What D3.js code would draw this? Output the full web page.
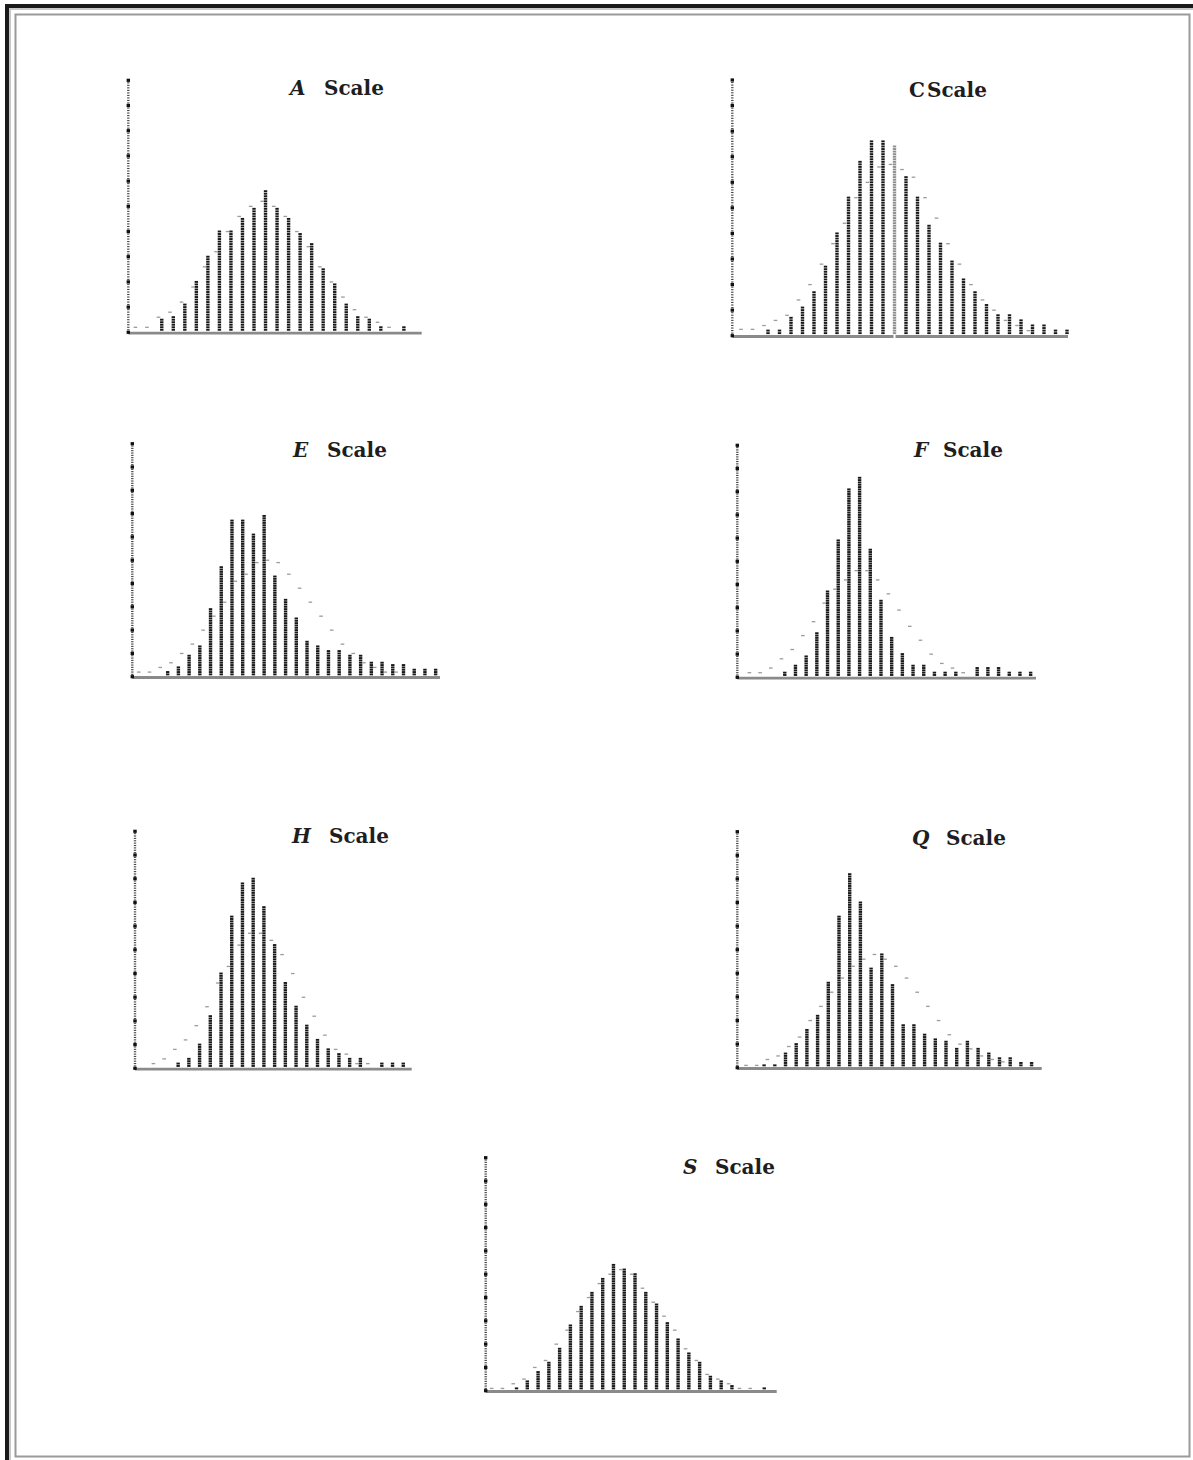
<!DOCTYPE html>
<html><head><meta charset="utf-8">
<script src="https://cdn.jsdelivr.net/npm/d3@7"></script>
<style>body{margin:0;background:#fff}svg{display:block}</style>
</head><body><svg id="chart" width="1193" height="1460"></svg>
<script>
// ---- data (units = major y-axis intervals, axis runs 0..10) ----
const scaleLetters = ["A","C","E","F","H","Q","S"];
const yMajorTicks = [0,1,2,3,4,5,6,7,8,9,10];

const barsA  = [0,0,0.5,0.6,1.1,2.0,3.0,4.0,4.0,4.5,4.9,5.6,4.9,4.5,3.9,3.5,2.5,1.9,1.1,0.6,0.5,0.2,0,0.2];
const curveA = [0.2,0.2,0.6,0.8,1.2,1.8,2.6,3.2,4.0,4.6,5.0,5.2,5.0,4.6,4.0,3.4,2.6,2.0,1.4,0.9,0.6,0.4,0.2,0];

const barsC  = [0,0,0.2,0.2,0.7,1.1,1.7,2.7,4.0,5.4,6.8,7.6,7.6,7.4,6.2,5.4,4.3,3.6,2.9,2.2,1.7,1.2,0.8,0.8,0.6,0.4,0.4,0.2,0.2];
const curveC = [0.25,0.25,0.4,0.6,0.8,1.4,2.0,2.8,3.6,4.4,5.4,6.0,6.6,6.7,6.5,6.2,5.4,4.6,3.6,2.8,2.0,1.4,1.0,0.6,0.4,0.2,0,0,0];

const barsE  = [0,0,0,0.2,0.4,0.9,1.3,2.9,4.7,6.7,6.7,6.1,6.9,4.3,3.3,2.5,1.5,1.3,1.1,1.1,0.9,0.9,0.6,0.6,0.5,0.5,0.3,0.3,0.3];
const curveE = [0.2,0.2,0.4,0.6,1.0,1.4,2.0,2.6,3.2,4.1,4.4,4.9,5.0,4.9,4.4,3.8,3.2,2.6,2.0,1.4,1.0,0.6,0.4,0.2,0.2,0,0,0,0];

const barsF  = [0,0,0,0.2,0.5,0.9,1.9,3.7,5.9,8.1,8.6,5.5,3.3,1.7,1.0,0.5,0.5,0.2,0.2,0.2,0,0.4,0.4,0.4,0.2,0.2,0.2];
const curveF = [0.2,0.2,0.4,0.8,1.2,1.8,2.4,3.2,3.8,4.2,4.6,4.6,4.2,3.6,2.9,2.2,1.6,1.0,0.6,0.4,0.2,0,0,0,0,0,0];

const barsH  = [0,0,0.2,0.4,1.0,2.2,4.0,6.4,7.8,8.0,6.8,5.2,3.6,2.6,1.8,1.2,0.8,0.6,0.4,0.4,0,0.2,0.2,0.2];
const curveH = [0.2,0.4,0.8,1.2,1.8,2.6,3.6,4.3,5.2,5.7,5.7,5.4,4.8,4.0,3.0,2.2,1.4,0.8,0.6,0.2,0.2,0,0,0];

const barsQ  = [0,0,0.1,0.1,0.6,1.0,1.6,2.2,3.6,6.4,8.2,7.0,4.2,4.8,3.5,1.8,1.8,1.4,1.2,1.1,0.8,1.1,0.8,0.6,0.4,0.4,0.2,0.2];
const curveQ = [0.1,0.1,0.35,0.5,0.9,1.3,2.0,2.6,3.2,3.8,4.3,4.6,4.8,4.6,4.3,3.8,3.2,2.6,2.0,1.4,1.0,0.8,0.5,0.35,0.25,0,0,0];

const barsS  = [0,0,0.1,0.4,0.8,1.2,1.8,2.8,3.6,4.2,4.8,5.4,5.2,5.0,4.2,3.7,2.9,2.2,1.6,1.2,0.6,0.4,0.2,0,0,0.1];
const curveS = [0.1,0.1,0.3,0.5,1.0,1.3,2.0,2.6,3.4,4.0,4.6,5.0,5.2,5.0,4.4,3.8,3.2,2.6,1.8,1.3,0.7,0.5,0.3,0.1,0.1,0];

// ---- layout (positions / styles) ----
const panels = [
  {letter:scaleLetters[0], bars:barsA, curve:curveA, axisX:128.3, base:332.3, unit:25.2,  x0:138.7, step:11.53, dx:-3.3, axisEnd:421.7, lx:290, sx:324, ty:95,   italic:true},
  {letter:scaleLetters[1], bars:barsC, curve:curveC, axisX:732.3, base:335.7, unit:25.57, x0:745.0, step:11.5,  dx:-4.0, axisEnd:1068,  lx:909, sx:927, ty:96.5, italic:false, fade:13},
  {letter:scaleLetters[2], bars:barsE, curve:curveE, axisX:132.3, base:676.7, unit:23.3,  x0:135.5, step:10.72, dx:3.3,  axisEnd:440,   lx:293, sx:327, ty:456.5,italic:true},
  {letter:scaleLetters[3], bars:barsF, curve:curveF, axisX:737.3, base:677.3, unit:23.2,  x0:752.7, step:10.69, dx:-3.3, axisEnd:1036,  lx:914, sx:943, ty:456.5,italic:true},
  {letter:scaleLetters[4], bars:barsH, curve:curveH, axisX:135.0, base:1068.3,unit:23.7,  x0:156.7, step:10.72, dx:-3.3, axisEnd:411.7, lx:292, sx:329, ty:843,  italic:true},
  {letter:scaleLetters[5], bars:barsQ, curve:curveQ, axisX:737.3, base:1067.7,unit:23.6,  x0:742.7, step:10.7,  dx:3.3,  axisEnd:1041.7,lx:912, sx:946, ty:845,  italic:true},
  {letter:scaleLetters[6], bars:barsS, curve:curveS, axisX:485.7, base:1390.7,unit:23.3,  x0:495.0, step:10.77, dx:-3.3, axisEnd:776.7, lx:683, sx:715, ty:1174, italic:true}
];

const svg = d3.select("#chart");

// frame
svg.append("rect").attr("x",15.5).attr("y",14.5).attr("width",1174).attr("height",1442)
   .attr("fill","none").attr("stroke","#9a9a9a").attr("stroke-width",2);
svg.append("rect").attr("x",5).attr("y",4).attr("width",1188).attr("height",4).attr("fill","#1a1a1a");
svg.append("rect").attr("x",5).attr("y",4).attr("width",4).attr("height",1456).attr("fill","#1a1a1a");
svg.append("rect").attr("x",9).attr("y",8).attr("width",1184).attr("height",2).attr("fill","#c8c8c8");
svg.append("rect").attr("x",9).attr("y",8).attr("width",2).attr("height",1452).attr("fill","#c8c8c8");

panels.forEach(p => {
  const n = p.bars.length;
  const x = d3.scaleLinear().domain([0, n-1]).range([p.x0, p.x0 + p.step*(n-1)]);
  const y = d3.scaleLinear().domain([0, 10]).range([p.base, p.base - 10*p.unit]);
  const g = svg.append("g");

  // x axis line
  g.append("line").attr("x1",p.axisX).attr("x2",p.axisEnd)
    .attr("y1",p.base+0.8).attr("y2",p.base+0.8)
    .attr("stroke","#8a8a8a").attr("stroke-width",2.8);
  if (p.fade !== undefined) {
    g.append("rect").attr("x",x(p.fade)-1).attr("y",p.base-1).attr("width",2).attr("height",4).attr("fill","#fff");
  }

  // y axis: minor dotted ticks and major square ticks
  const minor = y.ticks(100);
  g.selectAll("rect.minor").data(minor).join("rect").attr("class","minor")
    .attr("x",p.axisX-1.2).attr("y",d=>y(d)-0.55).attr("width",2.4).attr("height",1.1)
    .attr("fill","#444");
  g.selectAll("rect.major").data(yMajorTicks).join("rect").attr("class","major")
    .attr("x",p.axisX-1.7).attr("y",d=>y(d)-1.6).attr("width",3.4).attr("height",3.2)
    .attr("fill","#111");

  // bars as stacked dots
  const dots = [];
  p.bars.forEach((v,i) => {
    const k = Math.round(v*10);
    for (let j=1;j<=k;j++) dots.push({i, v:j/10});
  });
  g.selectAll("rect.dot").data(dots).join("rect").attr("class","dot")
    .attr("x",d=>x(d.i)-1.7).attr("y",d=>y(d.v)-0.95).attr("width",3.4).attr("height",1.9)
    .attr("fill",d=> d.i===p.fade ? "#8f8f8f" : "#181818");

  // normal curve (dashes)
  const cpts = p.curve.map((v,i)=>({i,v})).filter(d=>d.v>0);
  g.selectAll("rect.curve").data(cpts).join("rect").attr("class","curve")
    .attr("x",d=>x(d.i)+p.dx-1.8).attr("y",d=>y(d.v)-0.6).attr("width",3.6).attr("height",1.3)
    .attr("fill","#9c9c9c");

  // title
  const t = g.append("text").attr("y",p.ty)
    .attr("font-family","'DejaVu Serif', serif").attr("font-weight","bold")
    .attr("font-size",20).attr("fill","#1e1e1e");
  t.append("tspan").attr("x",p.lx).attr("font-style",p.italic?"italic":"normal").text(p.letter);
  t.append("tspan").attr("x",p.sx).text("Scale");
});
</script>
</body></html>
